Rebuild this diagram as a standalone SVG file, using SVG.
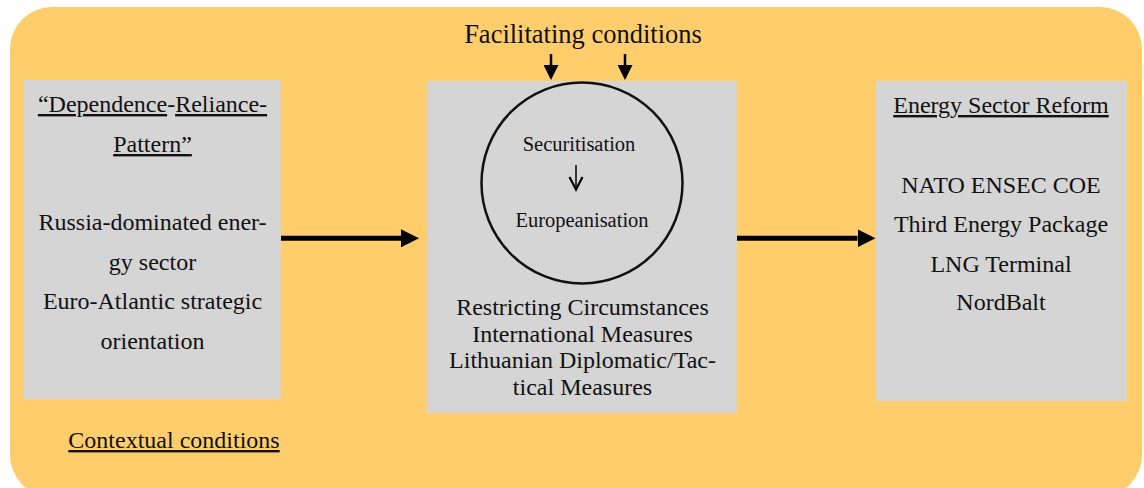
<svg xmlns="http://www.w3.org/2000/svg" width="1144" height="488" viewBox="0 0 1144 488">
<style>
text{font-family:"Liberation Serif","Times New Roman",serif;fill:#111;text-anchor:middle}
.t24{font-size:24px}
.t20{font-size:20.5px}
.u{text-decoration:underline}
.box{fill:#D5D5D5}
.conn{stroke:#000;fill:none}
</style>
<defs>
<marker id="bigHead" markerUnits="userSpaceOnUse" viewBox="0 0 18 18" markerWidth="18" markerHeight="18" refX="0" refY="9" orient="auto">
<path d="M0,0 L18,9 L0,18 Z" fill="#000"/>
</marker>
<marker id="smallHead" markerUnits="userSpaceOnUse" viewBox="0 0 15 15" markerWidth="15" markerHeight="15" refX="0" refY="7.5" orient="auto">
<path d="M0,0 L15,7.5 L0,15 Z" fill="#000"/>
</marker>
</defs>
<g id="background">
<rect x="10" y="7" width="1132" height="490" rx="42" ry="42" fill="#FFCD6B"/>
</g>
<g id="facilitating">
<text x="583" y="43" style="font-size:26.5px">Facilitating conditions</text>
</g>
<g id="contextual">
<text class="t24" x="174" y="448"><tspan class="u">Contextual conditions</tspan></text>
</g>
<g id="node-left">
<rect class="box" x="24" y="80" width="257" height="319"/>
<text class="t24" x="152.5" y="112"><tspan class="u">“Dependence</tspan>-<tspan class="u">Reliance-</tspan></text>
<text class="t24" x="152.5" y="152"><tspan class="u">Pattern”</tspan></text>
<text class="t24" x="152.5" y="230">Russia-dominated ener-</text>
<text class="t24" x="152.5" y="270">gy sector</text>
<text class="t24" x="152.5" y="309">Euro-Atlantic strategic</text>
<text class="t24" x="152.5" y="349">orientation</text>
</g>
<g id="node-middle">
<rect class="box" x="427" y="81" width="310" height="332"/>
<circle cx="582" cy="183" r="100.5" fill="none" stroke="#111" stroke-width="2.5"/>
<text class="t20" x="579" y="151">Securitisation</text>
<text class="t20" x="582" y="227">Europeanisation</text>
<text class="t24" x="582.5" y="315">Restricting Circumstances</text>
<text class="t24" x="582.5" y="341.7">International Measures</text>
<text class="t24" x="582.5" y="368.3">Lithuanian Diplomatic/Tac-</text>
<text class="t24" x="582.5" y="395">tical Measures</text>
</g>
<g id="node-right">
<rect class="box" x="876" y="81" width="251" height="320"/>
<text class="t24" x="1001" y="113"><tspan class="u">Energy Sector Reform</tspan></text>
<text class="t24" x="1001" y="193">NATO ENSEC COE</text>
<text class="t24" x="1001" y="232">Third Energy Package</text>
<text class="t24" x="1001" y="272">LNG Terminal</text>
<text class="t24" x="1001" y="310">NordBalt</text>
</g>
<g id="connectors">
<line class="conn" x1="281" y1="238.3" x2="401" y2="238.3" stroke-width="5" marker-end="url(#bigHead)"/>
<line class="conn" x1="737" y1="238.3" x2="857.5" y2="238.3" stroke-width="5" marker-end="url(#bigHead)"/>
<line class="conn" x1="551" y1="54" x2="551" y2="65" stroke-width="2.5" marker-end="url(#smallHead)"/>
<line class="conn" x1="625" y1="54" x2="625" y2="65" stroke-width="2.5" marker-end="url(#smallHead)"/>
<path class="conn" d="M576,165 L576,189" stroke-width="1.5"/>
<path class="conn" d="M569.5,177 L576,189.5 L582.5,177" stroke-width="2.2"/>
</g>
</svg>
